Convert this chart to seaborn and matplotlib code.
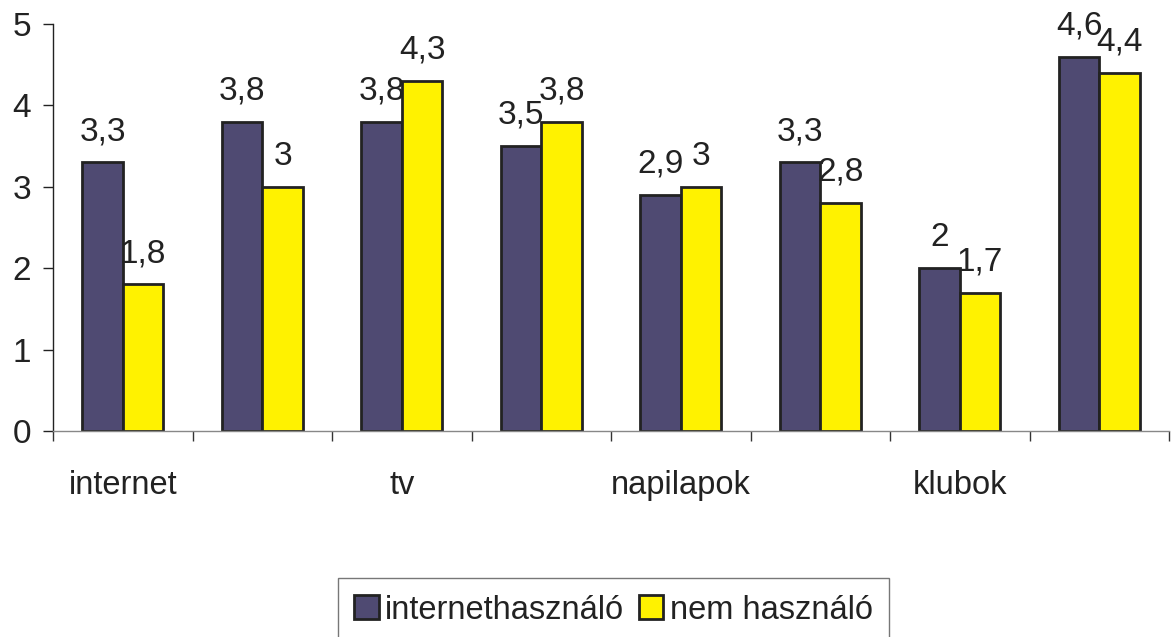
import matplotlib
matplotlib.use("Agg")
import matplotlib.pyplot as plt
import matplotlib.ticker as mticker
import seaborn as sns
import pandas as pd

# Category positions and the labels printed under the axis (every other one is shown)
positions = list(range(8))
tick_labels = ["internet", "", "tv", "", "napilapok", "", "klubok", ""]

# Series values
internethasznalo = [3.3, 3.8, 3.8, 3.5, 2.9, 3.3, 2.0, 4.6]
nem_hasznalo = [1.8, 3.0, 4.3, 3.8, 3.0, 2.8, 1.7, 4.4]

series_names = ["internethasználó", "nem használó"]
colors = ["#4F4A72", "#FFF200"]

df = pd.DataFrame({
    "pos": positions * 2,
    "value": internethasznalo + nem_hasznalo,
    "group": [series_names[0]] * 8 + [series_names[1]] * 8,
})

sns.set_style("white")
plt.rcParams["font.family"] = ["Liberation Sans", "DejaVu Sans"]

fig = plt.figure(figsize=(11.71, 6.37), dpi=100)
ax = fig.add_axes([0.0453, 0.3234, 0.9530, 0.6389])

sns.barplot(data=df, x="pos", y="value", hue="group", order=positions,
            hue_order=series_names, palette=colors, width=0.58,
            edgecolor="#222222", linewidth=2, saturation=1, ax=ax,
            legend=True)

# value labels above each bar, with decimal comma
for container in ax.containers:
    labels = [f"{v:g}".replace(".", ",") for v in container.datavalues]
    ax.bar_label(container, labels=labels, padding=11, fontsize=24,
                 color="#222222")

ax.set_xlim(-0.5, 7.5)
ax.set_ylim(0, 5)
ax.set_yticks(range(6))
ax.tick_params(axis="y", direction="out", length=7, width=1, pad=9,
               labelsize=24, colors="#222222", left=True)

ax.set_xticks(positions)
ax.set_xticklabels(tick_labels)
ax.tick_params(axis="x", which="major", length=0, pad=28, labelsize=23.5,
               labelcolor="#222222")
ax.xaxis.set_minor_locator(mticker.FixedLocator([p - 0.5 for p in positions] + [7.5]))
ax.tick_params(axis="x", which="minor", direction="out", length=7, width=1,
               color="#333333", bottom=True)

ax.set_xlabel("")
ax.set_ylabel("")

for side in ["top", "right"]:
    ax.spines[side].set_visible(False)
ax.spines["left"].set_color("#222222")
ax.spines["left"].set_linewidth(1)
ax.spines["bottom"].set_color("#888888")
ax.spines["bottom"].set_linewidth(1)

handles, labels = ax.get_legend_handles_labels()
ax.get_legend().remove()
leg = fig.legend(handles, labels, loc="upper center",
                 bbox_to_anchor=(0.524, 0.092), ncol=2, fontsize=23.5,
                 frameon=True, fancybox=False, handlelength=0.75,
                 handleheight=0.75, handletextpad=0.2, columnspacing=0.45,
                 borderpad=0.5, borderaxespad=0)
leg.get_frame().set_edgecolor("#555555")
leg.get_frame().set_linewidth(1)
for t in leg.get_texts():
    t.set_color("#222222")
for h in leg.legend_handles:
    h.set_edgecolor("#222222")
    h.set_linewidth(2)

fig.savefig("out.png", dpi=100)
